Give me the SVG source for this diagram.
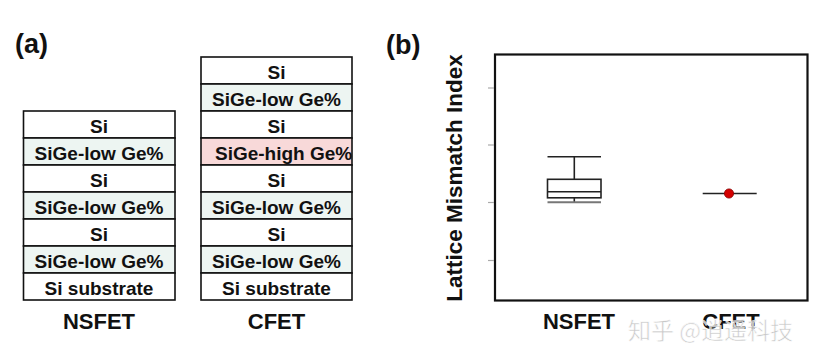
<svg xmlns="http://www.w3.org/2000/svg" width="825" height="363" viewBox="0 0 825 363">
<style>
.t{font-family:"Liberation Sans",Arial,sans-serif;font-weight:bold;fill:#111}
.lt{font-size:19px;text-anchor:middle}
.lbl{font-size:22px;text-anchor:middle}
.pan{font-size:27px}
.si{fill:#fff;stroke:#111;stroke-width:1.6}
.low{fill:#edf5f2;stroke:#111;stroke-width:1.6}
.high{fill:#f8d9d9;stroke:#111;stroke-width:1.6}
.ln{stroke:#222;stroke-width:1.6;fill:none}
.tick{stroke:#aaa;stroke-width:1.2}
</style>
<rect width="825" height="363" fill="#fff"/>
<text class="t pan" x="15" y="53">(a)</text>
<text class="t pan" x="386" y="54">(b)</text>

<g id="nsfet-stack">
<rect class="si" x="23.5" y="111" width="151.5" height="27"/>
<rect class="low" x="23.5" y="138" width="151.5" height="27"/>
<rect class="si" x="23.5" y="165" width="151.5" height="27"/>
<rect class="low" x="23.5" y="192" width="151.5" height="27"/>
<rect class="si" x="23.5" y="219" width="151.5" height="27"/>
<rect class="low" x="23.5" y="246" width="151.5" height="27"/>
<rect class="si" x="23.5" y="273" width="151.5" height="27"/>
<text class="t lt" x="99" y="133">Si</text>
<text class="t lt" x="99" y="160">SiGe-low Ge%</text>
<text class="t lt" x="99" y="187">Si</text>
<text class="t lt" x="99" y="214">SiGe-low Ge%</text>
<text class="t lt" x="99" y="241">Si</text>
<text class="t lt" x="99" y="268">SiGe-low Ge%</text>
<text class="t lt" x="99" y="295">Si substrate</text>
<text class="t lbl" x="99" y="329">NSFET</text>
</g>

<g id="cfet-stack">
<rect class="si" x="201" y="57" width="151" height="27"/>
<rect class="low" x="201" y="84" width="151" height="27"/>
<rect class="si" x="201" y="111" width="151" height="27"/>
<rect class="high" x="201" y="138" width="151" height="27"/>
<rect class="si" x="201" y="165" width="151" height="27"/>
<rect class="low" x="201" y="192" width="151" height="27"/>
<rect class="si" x="201" y="219" width="151" height="27"/>
<rect class="low" x="201" y="246" width="151" height="27"/>
<rect class="si" x="201" y="273" width="151" height="27"/>
<text class="t lt" x="276.5" y="79">Si</text>
<text class="t lt" x="276.5" y="106">SiGe-low Ge%</text>
<text class="t lt" x="276.5" y="133">Si</text>
<text class="t" font-size="19" x="215" y="160">SiGe-high Ge%</text>
<text class="t lt" x="276.5" y="187">Si</text>
<text class="t lt" x="276.5" y="214">SiGe-low Ge%</text>
<text class="t lt" x="276.5" y="241">Si</text>
<text class="t lt" x="276.5" y="268">SiGe-low Ge%</text>
<text class="t lt" x="276.5" y="295">Si substrate</text>
<text class="t lbl" x="276.5" y="329">CFET</text>
</g>

<g id="plot">
<rect x="495" y="54.5" width="312.5" height="246" fill="none" stroke="#111" stroke-width="2.2"/>
<line class="tick" x1="488" y1="88" x2="494" y2="88"/>
<line class="tick" x1="488" y1="145" x2="494" y2="145"/>
<line class="tick" x1="488" y1="202.5" x2="494" y2="202.5"/>
<line class="tick" x1="488" y1="260.5" x2="494" y2="260.5"/>
<text class="t" font-size="22.5" text-anchor="middle" transform="translate(461.5,178) rotate(-90)">Lattice Mismatch Index</text>
<text class="t lbl" x="579" y="329">NSFET</text>
<text class="t lbl" x="731" y="329">CFET</text>
</g>

<g id="nsfet-box">
<line class="ln" x1="547.5" y1="156.7" x2="601" y2="156.7"/>
<line class="ln" x1="574.3" y1="156.7" x2="574.3" y2="179.3"/>
<rect class="ln" x="547.5" y="179.3" width="53.5" height="18.5"/>
<line class="ln" x1="547.5" y1="191.7" x2="601" y2="191.7" stroke="#555" stroke-width="2"/>
<line class="ln" x1="574.3" y1="197.8" x2="574.3" y2="202.3"/>
<line x1="547.5" y1="202.3" x2="601" y2="202.3" stroke="#777" stroke-width="2"/>
</g>

<g id="cfet-point">
<line class="ln" x1="702.7" y1="193.5" x2="756.7" y2="193.5"/>
<circle cx="729" cy="193.5" r="4.6" fill="#d40000" stroke="#800" stroke-width="0.8"/>
</g>

<text x="628" y="339" font-family="'Noto Sans CJK SC','Noto Sans',sans-serif" font-size="23" fill="#c4c4c4" stroke="#fff" stroke-width="0.6" opacity="0.9">知乎 @逍遥科技</text>
</svg>
